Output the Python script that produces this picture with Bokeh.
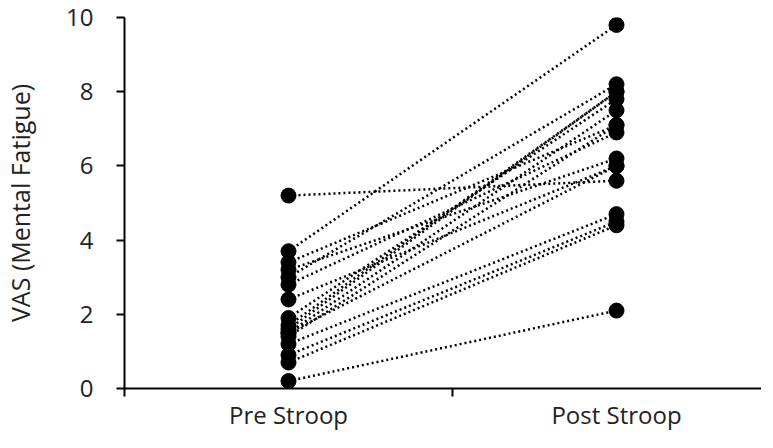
from bokeh.plotting import figure
from bokeh.models import FixedTicker, Range1d, ColumnDataSource
from bokeh.embed import file_html
from bokeh.resources import INLINE

categories = ["Pre Stroop", "Post Stroop"]
pre_values = [5.2, 3.7, 3.4, 3.2, 3.0, 2.8, 2.4, 1.9, 1.7, 1.6, 1.5, 1.5, 1.4, 1.2, 0.9, 0.7, 0.2]
post_values = [5.6, 9.8, 7.1, 6.2, 8.2, 6.9, 6.0, 7.8, 8.0, 8.0, 7.5, 6.0, 7.1, 4.7, 4.5, 4.4, 2.1]
y_ticks = [0, 2, 4, 6, 8, 10]
y_label = "VAS (Mental Fatigue)"

FONT = "Open Sans"
LEFT, TOP, BOTTOM = 120, 17, 44
FRAME_W, FRAME_H = 637, 371
cat_w = 328.0

cat_pos = [i + 0.5 for i in range(len(categories))]
boundaries = [float(i) for i in range(len(categories) + 1)]

p = figure(frame_width=FRAME_W, frame_height=FRAME_H, output_backend="svg",
           toolbar_location=None,
           x_range=Range1d(0, FRAME_W / cat_w), y_range=Range1d(0, 10),
           min_border_left=LEFT, min_border_right=0, min_border_top=TOP,
           min_border_bottom=BOTTOM)
p.title.visible = False
p.outline_line_color = None
p.xgrid.visible = False
p.ygrid.visible = False
p.background_fill_color = "white"
p.border_fill_color = "white"

src = ColumnDataSource(dict(
    xs=[[cat_pos[0], cat_pos[1]] for _ in pre_values],
    ys=[[a, b] for a, b in zip(pre_values, post_values)],
))
p.multi_line("xs", "ys", source=src, line_color="black", line_width=2.5,
             line_dash="2 3")
p.scatter([cat_pos[0]] * len(pre_values), pre_values, size=15,
          fill_color="black", line_color="black")
p.scatter([cat_pos[1]] * len(post_values), post_values, size=15,
          fill_color="black", line_color="black")

# x axis
xa = p.xaxis[0]
xa.ticker = FixedTicker(ticks=cat_pos, minor_ticks=boundaries)
xa.major_label_overrides = {cat_pos[i]: c for i, c in enumerate(categories)}
xa.major_tick_out = 0
xa.major_tick_in = 0
xa.minor_tick_out = 8
xa.minor_tick_in = 0
xa.minor_tick_line_color = "black"
xa.minor_tick_line_width = 2
xa.axis_line_color = "black"
xa.axis_line_width = 2
xa.major_label_standoff = 1
xa.major_label_text_font = FONT
xa.major_label_text_font_size = "24px"
xa.major_label_text_color = "#222222"

# y axis
ya = p.yaxis[0]
ya.ticker = FixedTicker(ticks=y_ticks, minor_ticks=[])
ya.major_tick_out = 8
ya.major_tick_in = 0
ya.major_tick_line_color = "black"
ya.major_tick_line_width = 2
ya.axis_line_color = "black"
ya.axis_line_width = 2
ya.major_label_standoff = 23
ya.major_label_text_font = FONT
ya.major_label_text_font_size = "24px"
ya.major_label_text_color = "#222222"
ya.axis_label = y_label
ya.axis_label_standoff = 26
ya.axis_label_text_font = FONT
ya.axis_label_text_font_style = "normal"
ya.axis_label_text_font_size = "25px"
ya.axis_label_text_color = "#222222"

open("out.html", "w").write(file_html(p, INLINE))
